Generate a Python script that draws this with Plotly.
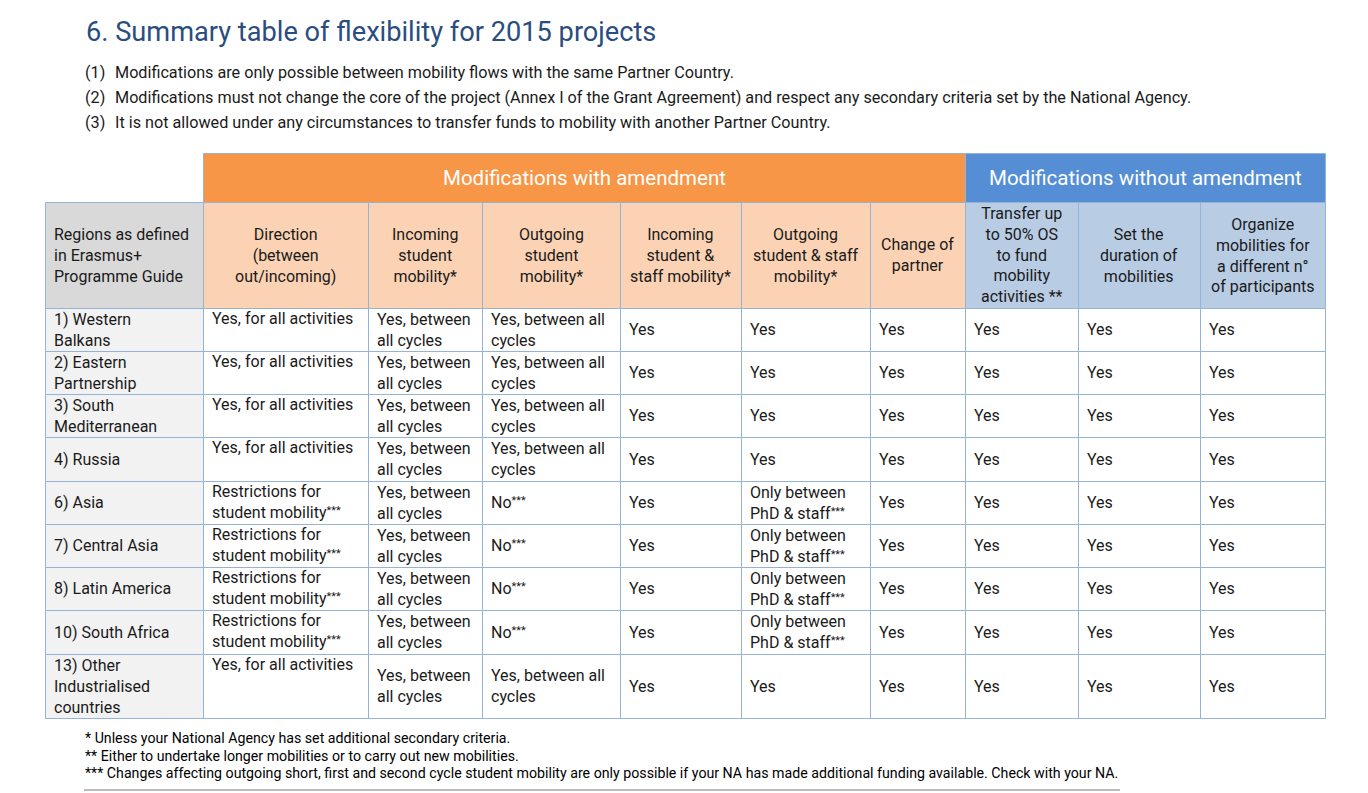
import plotly.graph_objects as go

# ---------------- data ----------------
title = "6. Summary table of flexibility for 2015 projects"
note_labels = ["(1)", "(2)", "(3)"]
notes = [
    "Modifications are only possible between mobility flows with the same Partner Country.",
    "Modifications must not change the core of the project (Annex I of the Grant Agreement) and respect any secondary criteria set by the National Agency.",
    "It is not allowed under any circumstances to transfer funds to mobility with another Partner Country.",
]
group_labels = ["Modifications with amendment", "Modifications without amendment"]
group_first_col = [1, 7]
group_last_col = [6, 9]

STARS = "<span style='font-size:11px;baseline-shift:35%'>***</span>"

column_headers = [
    "Regions as defined<br>in Erasmus+<br>Programme Guide",
    "Direction<br>(between<br>out/incoming)",
    "Incoming<br>student<br>mobility*",
    "Outgoing<br>student<br>mobility*",
    "Incoming<br>student &<br>staff mobility*",
    "Outgoing<br>student & staff<br>mobility*",
    "Change of<br>partner",
    "Transfer up<br>to 50% OS<br>to fund<br>mobility<br>activities **",
    "Set the<br>duration of<br>mobilities",
    "Organize<br>mobilities for<br>a different n°<br>of participants",
]

regions = [
    "1) Western<br>Balkans",
    "2) Eastern<br>Partnership",
    "3) South<br>Mediterranean",
    "4) Russia",
    "6) Asia",
    "7) Central Asia",
    "8) Latin America",
    "10) South Africa",
    "13) Other<br>Industrialised<br>countries",
]
direction = [
    "Yes, for all activities",
    "Yes, for all activities",
    "Yes, for all activities",
    "Yes, for all activities",
    "Restrictions for<br>student mobility" + STARS,
    "Restrictions for<br>student mobility" + STARS,
    "Restrictions for<br>student mobility" + STARS,
    "Restrictions for<br>student mobility" + STARS,
    "Yes, for all activities",
]
incoming_student = [
    "Yes, between<br>all cycles", "Yes, between<br>all cycles", "Yes, between<br>all cycles",
    "Yes, between<br>all cycles", "Yes, between<br>all cycles", "Yes, between<br>all cycles",
    "Yes, between<br>all cycles", "Yes, between<br>all cycles", "Yes, between<br>all cycles",
]
outgoing_student = [
    "Yes, between all<br>cycles", "Yes, between all<br>cycles", "Yes, between all<br>cycles",
    "Yes, between all<br>cycles", "No" + STARS, "No" + STARS,
    "No" + STARS, "No" + STARS, "Yes, between all<br>cycles",
]
incoming_student_staff = ["Yes", "Yes", "Yes", "Yes", "Yes", "Yes", "Yes", "Yes", "Yes"]
outgoing_student_staff = [
    "Yes", "Yes", "Yes", "Yes",
    "Only between<br>PhD & staff" + STARS, "Only between<br>PhD & staff" + STARS,
    "Only between<br>PhD & staff" + STARS, "Only between<br>PhD & staff" + STARS,
    "Yes",
]
change_of_partner = ["Yes", "Yes", "Yes", "Yes", "Yes", "Yes", "Yes", "Yes", "Yes"]
transfer_os = ["Yes", "Yes", "Yes", "Yes", "Yes", "Yes", "Yes", "Yes", "Yes"]
set_duration = ["Yes", "Yes", "Yes", "Yes", "Yes", "Yes", "Yes", "Yes", "Yes"]
organize_mobilities = ["Yes", "Yes", "Yes", "Yes", "Yes", "Yes", "Yes", "Yes", "Yes"]

footnotes = [
    "* Unless your National Agency has set additional secondary criteria.",
    "** Either to undertake longer mobilities or to carry out new mobilities.",
    "*** Changes affecting outgoing short, first and second cycle student mobility are only possible if your NA has made additional funding available. Check with your NA.",
]

columns = [regions, direction, incoming_student, outgoing_student, incoming_student_staff,
           outgoing_student_staff, change_of_partner, transfer_os, set_duration, organize_mobilities]

# ---------------- layout / style ----------------
W, H = 1368, 793
FONT = "Roboto"
table_left = 45
col_widths = [158, 165, 114, 138, 121, 129, 95, 113, 122, 125]
group_top = 153
group_height = 49
header_height = 106
row_heights = [43, 43, 43, 44, 43, 43, 43, 44, 64]
col_valign = ["middle", "top", "middle", "middle", "middle", "middle", "middle", "middle", "middle", "middle"]

BORDER = "#95B3D7"
ORANGE = "#F79646"
BLUE = "#558ED5"
ORANGE_LIGHT = "#FBD3B4"
BLUE_LIGHT = "#B8CCE4"
GREY_HEAD = "#D9D9D9"
GREY_CELL = "#F2F2F2"
TEXT = "#1A1A1A"
TITLE_COLOR = "#2A4D80"
CELL_SIZE = 16

col_edges = [table_left]
for w in col_widths:
    col_edges.append(col_edges[-1] + w)
header_top = group_top + group_height
body_top = header_top + header_height
row_edges = [body_top]
for h in row_heights:
    row_edges.append(row_edges[-1] + h)

shapes = []
annotations = []


def rect(x0, y0, x1, y1, fill, line=BORDER, width=1):
    shapes.append(dict(type="rect", xref="x", yref="y", x0=x0 + 0.5, x1=x1 + 0.5,
                       y0=y0 + 0.5, y1=y1 + 0.5, fillcolor=fill,
                       line=dict(color=line, width=width), layer="below"))


def text(x, y, s, size, color=TEXT, xanchor="left", yanchor="middle", align="left"):
    annotations.append(dict(x=x, y=y, xref="x", yref="y", text=s, showarrow=False,
                            xanchor=xanchor, yanchor=yanchor, align=align,
                            font=dict(family=FONT, size=size, color=color)))


# title and notes
text(84, 32, title, 27.2, TITLE_COLOR)
note_y = [72, 97, 122]
for lab, nt, y in zip(note_labels, notes, note_y):
    text(83, y, lab, 16.2, TEXT)
    text(113, y, nt, 16.2, TEXT)

# group header row
group_fills = [ORANGE, BLUE]
for lab, c0, c1, fc in zip(group_labels, group_first_col, group_last_col, group_fills):
    x0, x1 = col_edges[c0], col_edges[c1 + 1]
    rect(x0, group_top, x1, header_top, fc)
    text((x0 + x1) / 2, group_top + group_height / 2, lab, 20.5, "white",
         xanchor="center", align="center")

# column headers
for j, hd in enumerate(column_headers):
    x0, x1 = col_edges[j], col_edges[j + 1]
    if j == 0:
        fill = GREY_HEAD
    elif j <= 6:
        fill = ORANGE_LIGHT
    else:
        fill = BLUE_LIGHT
    rect(x0, header_top, x1, body_top, fill)
    yc = header_top + header_height / 2
    if j == 0:
        text(x0 + 7, yc, hd, CELL_SIZE, TEXT)
    else:
        text((x0 + x1) / 2, yc, hd, CELL_SIZE, TEXT, xanchor="center", align="center")

# body cells
for j, col in enumerate(columns):
    x0, x1 = col_edges[j], col_edges[j + 1]
    for i, val in enumerate(col):
        y0, y1 = row_edges[i], row_edges[i + 1]
        rect(x0, y0, x1, y1, GREY_CELL if j == 0 else "white")
        if col_valign[j] == "top":
            text(x0 + 7, y0 - 1, val, CELL_SIZE, TEXT, yanchor="top")
        else:
            text(x0 + 7, (y0 + y1) / 2, val, CELL_SIZE, TEXT)

# footnotes
foot_y = [738, 756, 773]
for fn, y in zip(footnotes, foot_y):
    text(83, y, fn, 14.2, "#000000")
shapes.append(dict(type="line", xref="x", yref="y", x0=84, x1=1120, y0=790, y1=790,
                   line=dict(color="#A6A6A6", width=1.5)))

fig = go.Figure()
fig.add_trace(go.Scatter(x=[0, W], y=[0, H], mode="markers", marker=dict(opacity=0),
                         hoverinfo="skip", showlegend=False))
fig.update_layout(
    width=W, height=H, margin=dict(l=0, r=0, t=0, b=0),
    paper_bgcolor="white", plot_bgcolor="white",
    xaxis=dict(range=[0, W], visible=False, fixedrange=True),
    yaxis=dict(range=[H, 0], visible=False, fixedrange=True),
    shapes=shapes, annotations=annotations, showlegend=False,
)
fig.write_html("out.html", config={"displayModeBar": False},
               post_script="document.body.style.margin='0';document.body.style.overflow='hidden';")
